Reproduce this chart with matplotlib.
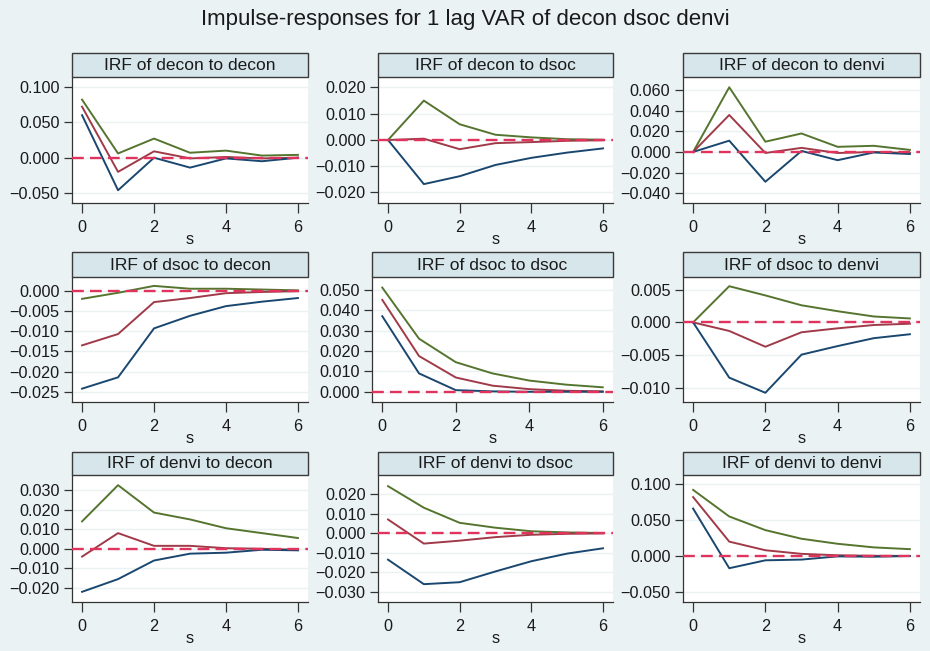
import matplotlib
matplotlib.use("Agg")
import matplotlib.pyplot as plt
from matplotlib.patches import Rectangle

plt.rcParams['font.family'] = ['Liberation Sans', 'DejaVu Sans']

steps = [0, 1, 2, 3, 4, 5, 6]
titles = [
    "IRF of decon to decon", "IRF of decon to dsoc", "IRF of decon to denvi",
    "IRF of dsoc to decon", "IRF of dsoc to dsoc", "IRF of dsoc to denvi",
    "IRF of denvi to decon", "IRF of denvi to dsoc", "IRF of denvi to denvi",
]

# upper CI (green), IRF (red), lower CI (blue)
upper = [
    [0.082, 0.006, 0.027, 0.007, 0.010, 0.003, 0.004],
    [0.0, 0.015, 0.006, 0.002, 0.001, 0.0003, 0.0001],
    [0.0, 0.063, 0.010, 0.018, 0.005, 0.006, 0.002],
    [-0.002, -0.0005, 0.0012, 0.0005, 0.0005, 0.0003, 0.0001],
    [0.051, 0.026, 0.0145, 0.009, 0.0055, 0.0035, 0.0022],
    [0.0, 0.0055, 0.0041, 0.0026, 0.0017, 0.0009, 0.0006],
    [0.014, 0.0325, 0.0185, 0.015, 0.0105, 0.008, 0.0055],
    [0.024, 0.013, 0.0053, 0.0028, 0.001, 0.0004, 0.0001],
    [0.092, 0.055, 0.036, 0.024, 0.017, 0.012, 0.0095],
]
irf = [
    [0.072, -0.020, 0.009, -0.001, 0.001, -0.001, 0.0],
    [0.0, 0.0005, -0.0035, -0.0012, -0.0008, -0.0003, -0.0001],
    [0.0, 0.036, -0.001, 0.004, -0.001, 0.0, -0.001],
    [-0.0135, -0.0107, -0.0028, -0.0018, -0.0006, -0.0003, -0.0001],
    [0.045, 0.0175, 0.007, 0.003, 0.0013, 0.0005, 0.0002],
    [0.0, -0.0013, -0.0037, -0.0015, -0.0009, -0.0004, -0.0002],
    [-0.004, 0.008, 0.0015, 0.0015, 0.0003, 0.0, -0.0005],
    [0.007, -0.0053, -0.0038, -0.002, -0.0008, -0.0003, -0.0001],
    [0.082, 0.020, 0.008, 0.003, 0.001, 0.0003, 0.0001],
]
lower = [
    [0.060, -0.046, 0.000, -0.014, -0.001, -0.005, 0.0],
    [0.0, -0.0168, -0.0138, -0.0095, -0.0068, -0.0048, -0.0032],
    [0.0, 0.011, -0.029, 0.001, -0.008, -0.0005, -0.002],
    [-0.0242, -0.0214, -0.0093, -0.0062, -0.0038, -0.0027, -0.0018],
    [0.037, 0.009, 0.0008, 0.0002, 0.0, 0.0, 0.0],
    [0.0, -0.0084, -0.0107, -0.0049, -0.0036, -0.0024, -0.0018],
    [-0.022, -0.0155, -0.006, -0.0025, -0.002, -0.0005, -0.0008],
    [-0.0135, -0.026, -0.025, -0.0195, -0.0143, -0.0104, -0.0077],
    [0.066, -0.017, -0.006, -0.005, -0.0005, -0.001, 0.0],
]
yticks = [
    [-0.05, 0.0, 0.05, 0.10],
    [-0.02, -0.01, 0.0, 0.01, 0.02],
    [-0.04, -0.02, 0.0, 0.02, 0.04, 0.06],
    [-0.025, -0.02, -0.015, -0.01, -0.005, 0.0],
    [0.0, 0.01, 0.02, 0.03, 0.04, 0.05],
    [-0.01, -0.005, 0.0, 0.005],
    [-0.02, -0.01, 0.0, 0.01, 0.02, 0.03],
    [-0.03, -0.02, -0.01, 0.0, 0.01, 0.02],
    [-0.05, 0.0, 0.05, 0.10],
]
ylims = [
    (-0.064, 0.114), (-0.024, 0.024), (-0.0497, 0.073),
    (-0.0275, 0.0034), (-0.005, 0.0562), (-0.0121, 0.0069),
    (-0.0272, 0.0377), (-0.0351, 0.0297), (-0.064, 0.1127),
]
xticks = [0, 2, 4, 6]

BG = '#EAF2F3'
HEAD = '#D6E6EB'
C_UP = '#55752F'
C_IRF = '#A03A48'
C_LO = '#1A476F'
C_REF = '#E0345E'

W, H = 930, 651
fig = plt.figure(figsize=(W / 100, H / 100), dpi=100, facecolor=BG)

cols = [[(72, 308), (378, 613), (683, 920)],
        [(72, 308), (372, 613), (683, 920)],
        [(72, 308), (378, 613), (683, 920)]]
rows = [(53, 77, 203), (252, 277, 402), (452, 475, 602)]

fig.text(0.5, 1 - 19 / H, "Impulse-responses for 1 lag VAR of decon dsoc denvi",
         ha='center', va='center', fontsize=16, color='#1a1a1a')

for i in range(9):
    r, c = divmod(i, 3)
    x0, x1 = cols[r][c]
    yh, yt, yb = rows[r]
    ax = fig.add_axes([x0 / W, 1 - yb / H, (x1 - x0) / W, (yb - yt) / H])
    ax.set_facecolor('white')
    ax.plot(steps, upper[i], color=C_UP, lw=1.4, zorder=3)
    ax.plot(steps, irf[i], color=C_IRF, lw=1.4, zorder=3)
    ax.plot(steps, lower[i], color=C_LO, lw=1.4, zorder=3)
    ax.axhline(0, color=C_REF, lw=1.7, ls=(0, (5, 2.6)), zorder=4)
    ax.set_xlim(-0.28, 6.28)
    ax.set_ylim(*ylims[i])
    ax.set_xticks(xticks)
    ax.set_yticks(yticks[i])
    ax.set_yticklabels([f"{v:.3f}".replace('-', '\u2212') for v in yticks[i]])
    ax.grid(axis='y', color=BG, lw=1.0)
    ax.set_axisbelow(True)
    for s in ['top', 'right']:
        ax.spines[s].set_visible(False)
    for s in ['left', 'bottom']:
        ax.spines[s].set_color('#333333')
        ax.spines[s].set_linewidth(0.9)
    ax.tick_params(axis='y', length=6, width=0.9, color='#333333',
                   labelsize=11.7, labelcolor='#1a1a1a', pad=3)
    ax.tick_params(axis='x', length=7, width=0.9, color='#333333',
                   labelsize=11.7, labelcolor='#1a1a1a', pad=5)
    ax.set_xlabel('s', fontsize=11.7, color='#1a1a1a', labelpad=-2)

    hax = fig.add_axes([x0 / W, 1 - yt / H, (x1 - x0) / W, (yt - yh) / H])
    hax.set_xlim(0, 1)
    hax.set_ylim(0, 1)
    hax.axis('off')
    hax.add_patch(Rectangle((0, 0), 1, 1, facecolor=HEAD, edgecolor='#3a3a3a',
                            lw=1.0, transform=hax.transAxes, clip_on=False))
    hax.text(0.5, 0.48, titles[i], ha='center', va='center', fontsize=12.5,
             color='#1a1a1a')

fig.savefig('out.png', dpi=100, facecolor=BG)
